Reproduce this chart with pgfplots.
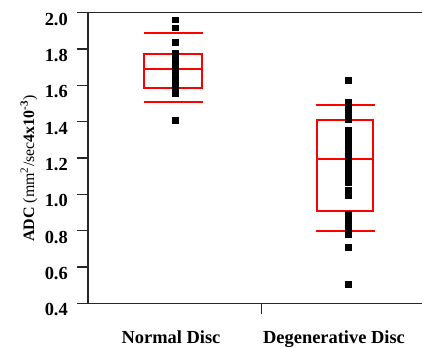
\documentclass[border=0pt]{standalone}
\usepackage{pgfplots}
\pgfplotsset{compat=1.18}
\usepackage{fontspec}
\setmainfont{Liberation Serif}
\begin{document}
\begin{tikzpicture}[x=1bp,y=1bp]
\useasboundingbox (0,0) rectangle (422,348);
\begin{axis}[
  at={(88bp,44.7bp)}, anchor=south west,
  scale only axis, width=336bp, height=290.6bp,
  xmin=0.4928, xmax=2.4406, ymin=0.4, ymax=2.0,
  clip=false,
  axis line style={black!85, line width=1.5bp},
  tick style={black!85, line width=1.5bp},
  tick align=outside,
  major tick length=11bp,
  ytick={0.4,0.6,0.8,1.0,1.2,1.4,1.6,1.8,2.0},
  ytick pos=left,
  yticklabel style={/pgf/number format/fixed, /pgf/number format/precision=1, /pgf/number format/fixed zerofill,
    /pgf/number format/assume math mode=true,
    font=\fontsize{18.5}{22}\selectfont\bfseries, anchor=north east, inner sep=0pt, xshift=-9bp},
  xtick={1.5}, xticklabels={},
  xtick pos=bottom,
  ylabel={\textbf{ADC} (mm\textsuperscript{2}/sec\textbf{4x10\textsuperscript{-3}})},
  ylabel style={font=\fontsize{16}{19}\selectfont, at={(axis description cs:-0.1756,0.464)}, anchor=center},
]
% Normal Disc box
\addplot[red, line width=2bp] coordinates {(0.819,1.584) (1.152,1.584) (1.152,1.773) (0.819,1.773)} --cycle;
\addplot[red, line width=2bp] coordinates {(0.819,1.690) (1.152,1.690)};
\addplot[red, line width=2bp] coordinates {(0.819,1.890) (1.161,1.890)};
\addplot[red, line width=2bp] coordinates {(0.819,1.510) (1.161,1.510)};
% Degenerative Disc box
\addplot[red, line width=2bp] coordinates {(1.819,0.908) (2.147,0.908) (2.147,1.407) (1.819,1.407)} --cycle;
\addplot[red, line width=2bp] coordinates {(1.819,1.194) (2.147,1.194)};
\addplot[red, line width=2bp] coordinates {(1.814,1.493) (2.157,1.493)};
\addplot[red, line width=2bp] coordinates {(1.814,0.798) (2.157,0.798)};
% points
\addplot[only marks, mark=square*, mark size=2.85bp, mark options={draw=none, fill=black}] coordinates {
(1,1.961) (1,1.918) (1,1.836) (1,1.78) (1,1.76) (1,1.74) (1,1.72) (1,1.70) (1,1.68) (1,1.66) (1,1.64) (1,1.62) (1,1.60) (1,1.58) (1,1.555) (1,1.409)
};
\addplot[only marks, mark=square*, mark size=2.85bp, mark options={draw=none, fill=black}] coordinates {
(2,1.628) (2,1.51) (2,1.49) (2,1.47) (2,1.45) (2,1.43) (2,1.413)
(2,1.354) (2,1.335) (2,1.315) (2,1.295) (2,1.275)
(2,1.24) (2,1.22) (2,1.20) (2,1.185) (2,1.167)
(2,1.128) (2,1.108) (2,1.088) (2,1.068)
(2,1.025) (2,0.993)
(2,0.889) (2,0.87) (2,0.85) (2,0.83) (2,0.81) (2,0.79) (2,0.778)
(2,0.708) (2,0.506)
};
\end{axis}
\node[anchor=base, font=\fontsize{18.5}{22}\selectfont\bfseries] at (171,4.5) {Normal Disc};
\node[anchor=base, font=\fontsize{18.5}{22}\selectfont\bfseries] at (334,4.5) {Degenerative Disc};
\end{tikzpicture}
\end{document}
